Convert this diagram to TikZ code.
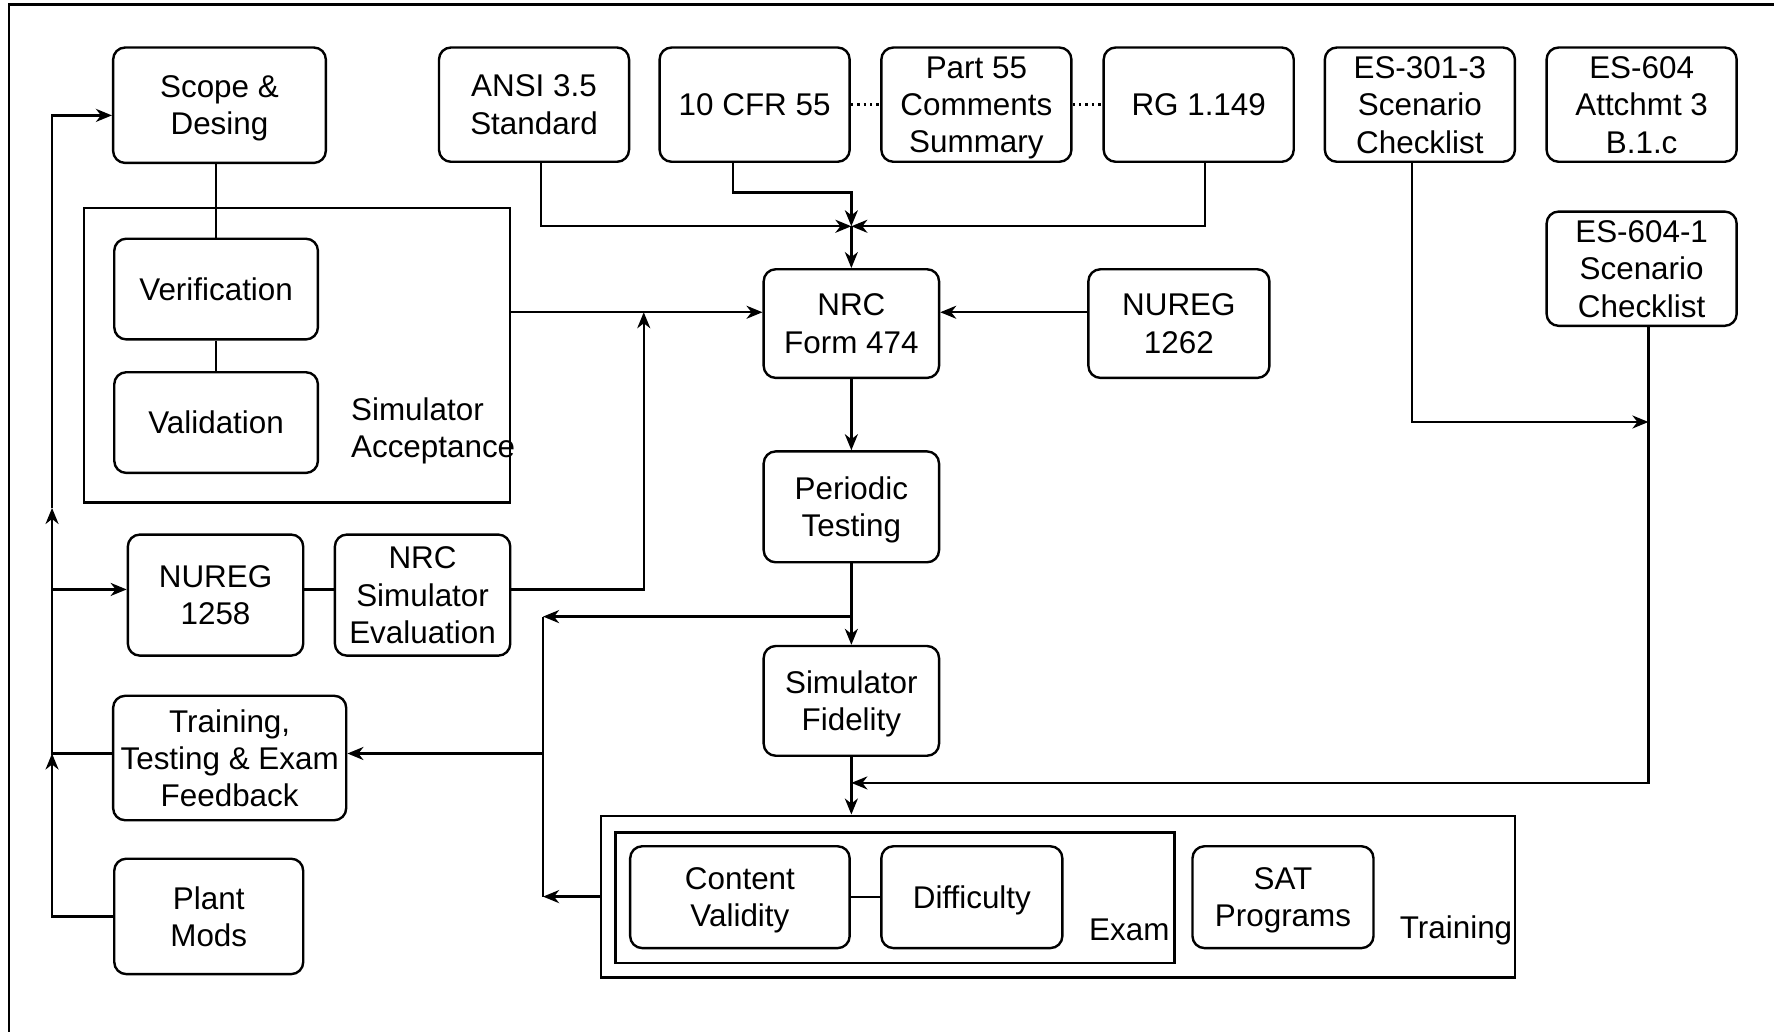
\documentclass[tikz,border=0pt]{standalone}
\usepackage{fontspec}
\setmainfont{Liberation Sans}
\usetikzlibrary{arrows.meta}

\begin{document}
\begin{tikzpicture}[x=0.5657pt, y=-0.5657pt,
    font=\fontsize{15.7}{18.7}\selectfont,
    tam/.style 2 args={minimum width=#1*0.5657pt, minimum height=#2*0.5657pt},
    caja/.style={draw, rounded corners=6pt, line width=1.2pt, align=center, inner sep=0pt, text depth=0pt},
    marco/.style={draw, line width=1.2pt, inner sep=0pt},
    linea/.style={line width=1.2pt},
    flecha/.style={line width=1.2pt, -{Stealth[length=8pt, width=6.5pt, inset=2.5pt]}}]

        \useasboundingbox (0,0) rectangle (1568,912);

        % Marco exterior
        \draw[linea] (8,912) -- (8,4) -- (1568,4);

        % Fila superior
        \node[caja, tam={188}{102}] (scope) at (194,93) {Scope \&\\Desing};
        \node[caja, tam={168}{101}] (ansi) at (472,92.5) {ANSI 3.5\\Standard};
        \node[caja, tam={168}{101}] (cfr) at (667,92.5) {10 CFR 55};
        \node[caja, tam={168}{101}] (part) at (863,92.5) {Part 55\\Comments\\Summary};
        \node[caja, tam={168}{101}] (rg) at (1059.5,92.5) {RG 1.149};
        \node[caja, tam={168}{101}] (es301) at (1255,92.5) {ES-301-3\\Scenario\\Checklist};
        \node[caja, tam={168}{101}] (es604) at (1451,92.5) {ES-604\\Attchmt 3\\B.1.c};
        \node[caja, tam={168}{101}] (es6041) at (1451,237.5) {ES-604-1\\Scenario\\Checklist};

        % Aceptacion del simulador
        \node[marco, tam={377}{260}] (acept) at (262.5,314) {};
        \node[caja, tam={180}{89}] (verif) at (191,255.5) {Verification};
        \node[caja, tam={180}{89}] (valid) at (191,373.5) {Validation};
        \node[anchor=west, align=left, inner sep=0pt] (aceptlbl) at (310,381) {Simulator\\Acceptance};

        % Centro
        \node[caja, tam={155}{96}] (nrc) at (752.5,286) {NRC\\Form 474};
        \node[caja, tam={160}{96}] (n1262) at (1042,286) {NUREG\\1262};
        \node[caja, tam={155}{98}] (periodic) at (752.5,448) {Periodic\\Testing};
        \node[caja, tam={155}{97}] (fidelity) at (752.5,619.5) {Simulator\\Fidelity};

        % Izquierda
        \node[caja, tam={155}{107}] (n1258) at (190.5,526) {NUREG\\1258};
        \node[caja, tam={155}{107}] (simeval) at (373.5,526) {NRC\\Simulator\\Evaluation};
        \node[caja, tam={206}{110}] (feedback) at (203,670) {Training,\\Testing \& Exam\\Feedback};
        \node[caja, tam={167}{102}] (plant) at (184.5,810) {Plant\\Mods};

        % Examen y entrenamiento
        \node[marco, tam={808}{143}] (training) at (935,792.5) {};
        \node[marco, tam={494}{115}] (exam) at (791,793.5) {};
        \node[caja, tam={194}{90}] (content) at (654,793) {Content\\Validity};
        \node[caja, tam={160}{90}] (difficulty) at (859,793) {Difficulty};
        \node[caja, tam={160}{90}] (sat) at (1134,793) {SAT\\Programs};
        \node[anchor=east, inner sep=0pt] (examlbl) at (1034,822) {Exam};
        \node[anchor=west, inner sep=0pt] (traininglbl) at (1237,822) {Training};

        % Lineas simples
        \draw[linea] (scope.south -| verif.north) -- (verif.north);
        \draw[linea] (verif) -- (valid);
        \draw[linea, dotted] (cfr) -- (part);
        \draw[linea, dotted] (part) -- (rg);
        \draw[linea] (n1258.east |- 0,521) -- (simeval.west |- 0,521);
        \draw[linea] (content) -- (difficulty);

        % Entradas a NRC Form 474
        \coordinate (cruce) at (752.5,200);
        \draw[flecha] (ansi.south -| 478,0) |- (cruce);
        \draw[flecha] (cfr.south -| 648,0) |- (752.5,170) -- (cruce);
        \draw[flecha] (rg.south -| 1065,0) |- (cruce);
        \draw[flecha] (cruce) -- (nrc);
        \draw[flecha] (acept.east |- 0,276) -- (nrc.west |- 0,276);
        \draw[flecha] (n1262.west |- 0,276) -- (nrc.east |- 0,276);
        \draw[flecha] (simeval.east |- 0,521) -| (569,276);

        % Cadena central
        \draw[flecha] (nrc) -- (periodic);
        \draw[flecha] (periodic) -- (fidelity);
        \draw[flecha] (fidelity.south) -- (fidelity.south |- training.north);

        % Retorno
        \coordinate (ret) at (480,545);
        \draw[flecha] (752.5,545) -- (ret);
        \draw[linea] (ret) -- (480,792.5);
        \draw[flecha] (480,666) -- (feedback.east |- 0,666);
        \draw[flecha] (training.west) -- (480,792.5);

        % Listas de escenarios
        \draw[flecha] (es301.south -| 1248,0) |- (1457,373);
        \draw[flecha] (es6041.south -| 1457,0) |- (752.5,692);

        % Bus de la izquierda
        \draw[flecha] (plant.west) -| (46,666);
        \draw[flecha] (feedback.west |- 0,666) -- (46,666) -- (46,449);
        \draw[flecha] (46,449) |- (scope.west |- 0,102);
        \draw[flecha] (46,521) -- (n1258.west |- 0,521);

\end{tikzpicture}
\end{document}
